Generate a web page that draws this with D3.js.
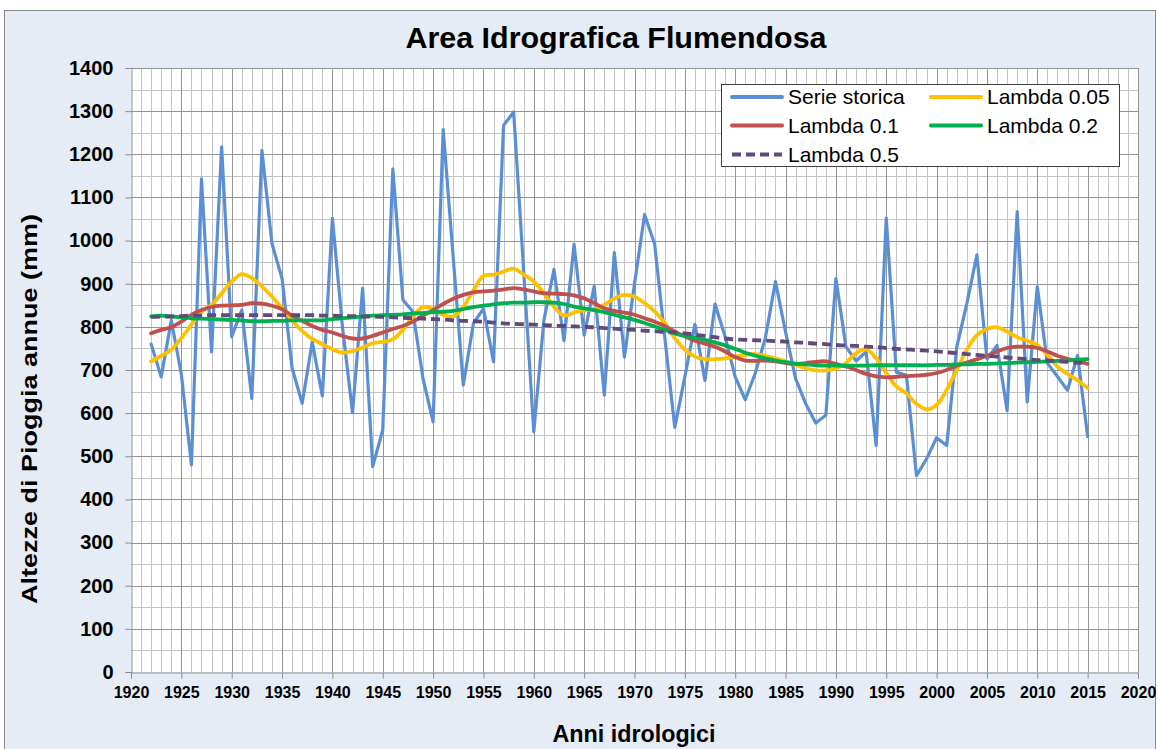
<!DOCTYPE html>
<html><head><meta charset="utf-8">
<script src="https://cdn.jsdelivr.net/npm/d3@7"></script>
<style>
body{margin:0;background:#fff;}
text{font-family:"Liberation Sans",Arial,sans-serif;}
</style>
</head><body>
<svg id="chart" width="1158" height="749"></svg>
<script>
const years = [1922,1923,1924,1925,1926,1927,1928,1929,1930,1931,1932,1933,1934,1935,1936,1937,1938,1939,1940,1941,
1942,1943,1944,1945,1946,1947,1948,1949,1950,1951,1952,1953,1954,1955,1956,1957,1958,1959,1960,1961,
1962,1963,1964,1965,1966,1967,1968,1969,1970,1971,1972,1973,1974,1975,1976,1977,1978,1979,1980,1981,
1982,1983,1984,1985,1986,1987,1988,1989,1990,1991,1992,1993,1994,1995,1996,1997,1998,1999,2000,2001,
2002,2003,2004,2005,2006,2007,2008,2009,2010,2011,2012,2013,2014,2015];

const serieStorica = [760,684,815,690,480,1143,742,1217,777,839,634,1209,993,912,704,623,765,640,1052,800,
601,889,476,561,1166,863,835,680,580,1257,960,665,808,842,719,1267,1298,927,557,815,
933,768,991,781,894,642,972,730,900,1060,992,777,567,684,806,676,853,777,684,631,
693,775,905,788,680,622,577,595,912,754,721,742,525,1052,695,688,455,494,543,525,
753,854,967,725,757,606,1067,626,893,716,685,653,734,546];

const lambda005 = [720,733,747,774,805,835,851,878,905,922,913,894,870,843,815,790,772,760,748,740,
744,752,762,765,771,793,824,846,841,828,824,847,884,918,921,928,935,921,905,878,
847,826,833,839,841,851,866,874,870,855,836,809,774,747,731,725,725,727,731,735,
737,733,727,720,712,704,699,699,703,716,739,748,727,693,662,646,621,609,619,654,
700,747,781,795,799,789,776,768,758,735,708,691,676,658];

const lambda01 = [785,793,799,812,828,839,846,849,850,851,855,854,849,841,826,814,802,793,787,779,
773,773,779,787,795,802,812,826,839,853,865,874,880,882,884,887,890,887,882,878,
877,876,873,866,855,843,837,833,828,820,812,802,789,778,768,761,754,743,730,722,
721,722,720,716,714,716,719,720,714,708,700,691,685,683,684,686,687,689,693,700,
710,717,725,733,743,751,754,754,751,743,733,726,721,714];

const lambda02 = [824,826,824,822,820,819,818,817,816,815,813,813,814,814,815,815,815,815,818,820,
822,824,826,827,828,829,831,832,834,835,837,841,846,849,852,855,856,856,857,857,
856,853,847,843,839,834,828,822,816,809,801,793,785,779,775,770,764,757,749,740,
733,727,722,718,715,713,711,710,710,710,710,710,711,711,711,711,711,711,712,712,
713,713,714,714,715,716,717,718,719,720,721,722,724,725];

const lambda05 = [823,824,824,825,826,826,827,827,827,827,827,827,827,827,827,827,827,826,826,825,
825,824,824,823,822,821,820,819,818,817,815,814,813,812,810,808,807,806,805,804,
803,802,801,800,799,797,796,794,793,791,790,788,787,785,782,779,776,773,771,770,
769,768,767,766,764,763,761,760,758,757,756,754,753,751,749,748,746,745,743,741,
739,737,735,733,731,729,727,725,723,722,720,719,717,716];

const xTickLabels = [1920,1925,1930,1935,1940,1945,1950,1955,1960,1965,1970,1975,1980,1985,1990,1995,2000,2005,2010,2015,2020];
const yTickLabels = [0,100,200,300,400,500,600,700,800,900,1000,1100,1200,1300,1400];

const seriesNames = ["Serie storica","Lambda 0.05","Lambda 0.1","Lambda 0.2","Lambda 0.5"];
const seriesColors = ["#5b8fd5","#ffc000","#c0504d","#00b050","#604a7b"];

const svg = d3.select("#chart");
const W = 1158, H = 749;
const L = 131, R = 1138, T = 68, B = 672;

svg.append("rect").attr("x",0).attr("y",0).attr("width",W).attr("height",H).attr("fill","#ffffff");
svg.append("rect").attr("x",4.5).attr("y",10.5).attr("width",1151).attr("height",760)
  .attr("fill","#e6ecf5").attr("stroke","#8a8a8a").attr("stroke-width",1);

const x = d3.scaleLinear().domain([1920,2020]).range([L,R]);
const y = d3.scaleLinear().domain([0,1400]).range([B,T]);

svg.append("rect").attr("x",L).attr("y",T).attr("width",R-L).attr("height",B-T).attr("fill","#ffffff");

const grid = svg.append("g");
grid.selectAll("line.vmin").data(d3.range(1921,2020).filter(v=>v%5!==0)).enter().append("line")
  .attr("x1",d=>Math.round(x(d))+0.5).attr("x2",d=>Math.round(x(d))+0.5).attr("y1",T).attr("y2",B)
  .attr("stroke","#c4c4c4").attr("stroke-width",1);
grid.selectAll("line.hmin").data(d3.range(50,1400,100)).enter().append("line")
  .attr("x1",L).attr("x2",R).attr("y1",d=>Math.round(y(d))+0.5).attr("y2",d=>Math.round(y(d))+0.5)
  .attr("stroke","#c4c4c4").attr("stroke-width",1);
grid.selectAll("line.vmaj").data(xTickLabels.slice(1)).enter().append("line")
  .attr("x1",d=>Math.round(x(d))+0.5).attr("x2",d=>Math.round(x(d))+0.5).attr("y1",T).attr("y2",B)
  .attr("stroke","#959595").attr("stroke-width",1);
grid.selectAll("line.hmaj").data(yTickLabels.slice(1)).enter().append("line")
  .attr("x1",L).attr("x2",R).attr("y1",d=>Math.round(y(d))+0.5).attr("y2",d=>Math.round(y(d))+0.5)
  .attr("stroke","#959595").attr("stroke-width",1);

const yAxis = svg.append("g").attr("transform",`translate(${L+0.5},0)`)
  .call(d3.axisLeft(y).tickValues(yTickLabels).tickSize(6).tickPadding(12).tickFormat(d3.format("d")));
const xAxis = svg.append("g").attr("transform",`translate(0,${B+0.5})`)
  .call(d3.axisBottom(x).tickValues(xTickLabels).tickSize(6).tickPadding(8).tickFormat(d3.format("d")));
[yAxis,xAxis].forEach(a=>{
  a.select(".domain").attr("stroke","#8c8c8c");
  a.selectAll(".tick line").attr("stroke","#8c8c8c");
  a.selectAll("text").attr("fill","#000").style("font-family","'Liberation Sans',Arial,sans-serif").style("font-weight","bold");
});
yAxis.selectAll("text").style("font-size","20px");
xAxis.selectAll("text").style("font-size","16px");

const allSeries = [serieStorica, lambda005, lambda01, lambda02, lambda05];
const straight = d3.line().x((d,i)=>x(years[i])).y(d=>y(d));
const smooth = d3.line().x((d,i)=>x(years[i])).y(d=>y(d)).curve(d3.curveCatmullRom.alpha(0.5));
const plot = svg.append("g");
allSeries.forEach((s,k)=>{
  plot.append("path").datum(s)
    .attr("d", k===0 ? straight : smooth)
    .attr("fill","none")
    .attr("stroke",seriesColors[k])
    .attr("stroke-width", k===0 ? 3.2 : 3.8)
    .attr("stroke-linejoin","round")
    .attr("stroke-linecap", k===4 ? "butt" : "round")
    .attr("stroke-dasharray", k===4 ? "9,5" : null);
});

svg.append("text").attr("x",616).attr("y",48).attr("text-anchor","middle")
  .style("font-size","30px").style("font-weight","bold").attr("fill","#000")
  .attr("textLength",421).attr("lengthAdjust","spacingAndGlyphs")
  .text("Area Idrografica Flumendosa");

svg.append("text").attr("x",634).attr("y",742).attr("text-anchor","middle")
  .style("font-size","23px").style("font-weight","bold").attr("fill","#000")
  .attr("textLength",163).attr("lengthAdjust","spacingAndGlyphs")
  .text("Anni idrologici");
svg.append("text").attr("transform","translate(37,409) rotate(-90)").attr("text-anchor","middle")
  .style("font-size","22px").style("font-weight","bold").attr("fill","#000")
  .attr("textLength",390).attr("lengthAdjust","spacingAndGlyphs")
  .text("Altezze di Pioggia annue (mm)");

const lg = svg.append("g");
lg.append("rect").attr("x",721.5).attr("y",84.5).attr("width",398).attr("height",82)
  .attr("fill","#fff").attr("stroke","#404040").attr("stroke-width",1);
const legendPos = [[731,97],[930,97],[731,125.5],[930,125.5],[731,154.5]];
seriesNames.forEach((n,k)=>{
  const [lx,ly] = legendPos[k];
  lg.append("line").attr("x1",lx+1).attr("x2",lx+51).attr("y1",ly).attr("y2",ly)
    .attr("stroke",seriesColors[k]).attr("stroke-width",4)
    .attr("stroke-linecap", k===4 ? "butt" : "round")
    .attr("stroke-dasharray", k===4 ? "9,5" : null);
  lg.append("text").attr("x",lx+57).attr("y",ly+7).style("font-size","21px").attr("fill","#000").text(n);
});
</script>
</body></html>
